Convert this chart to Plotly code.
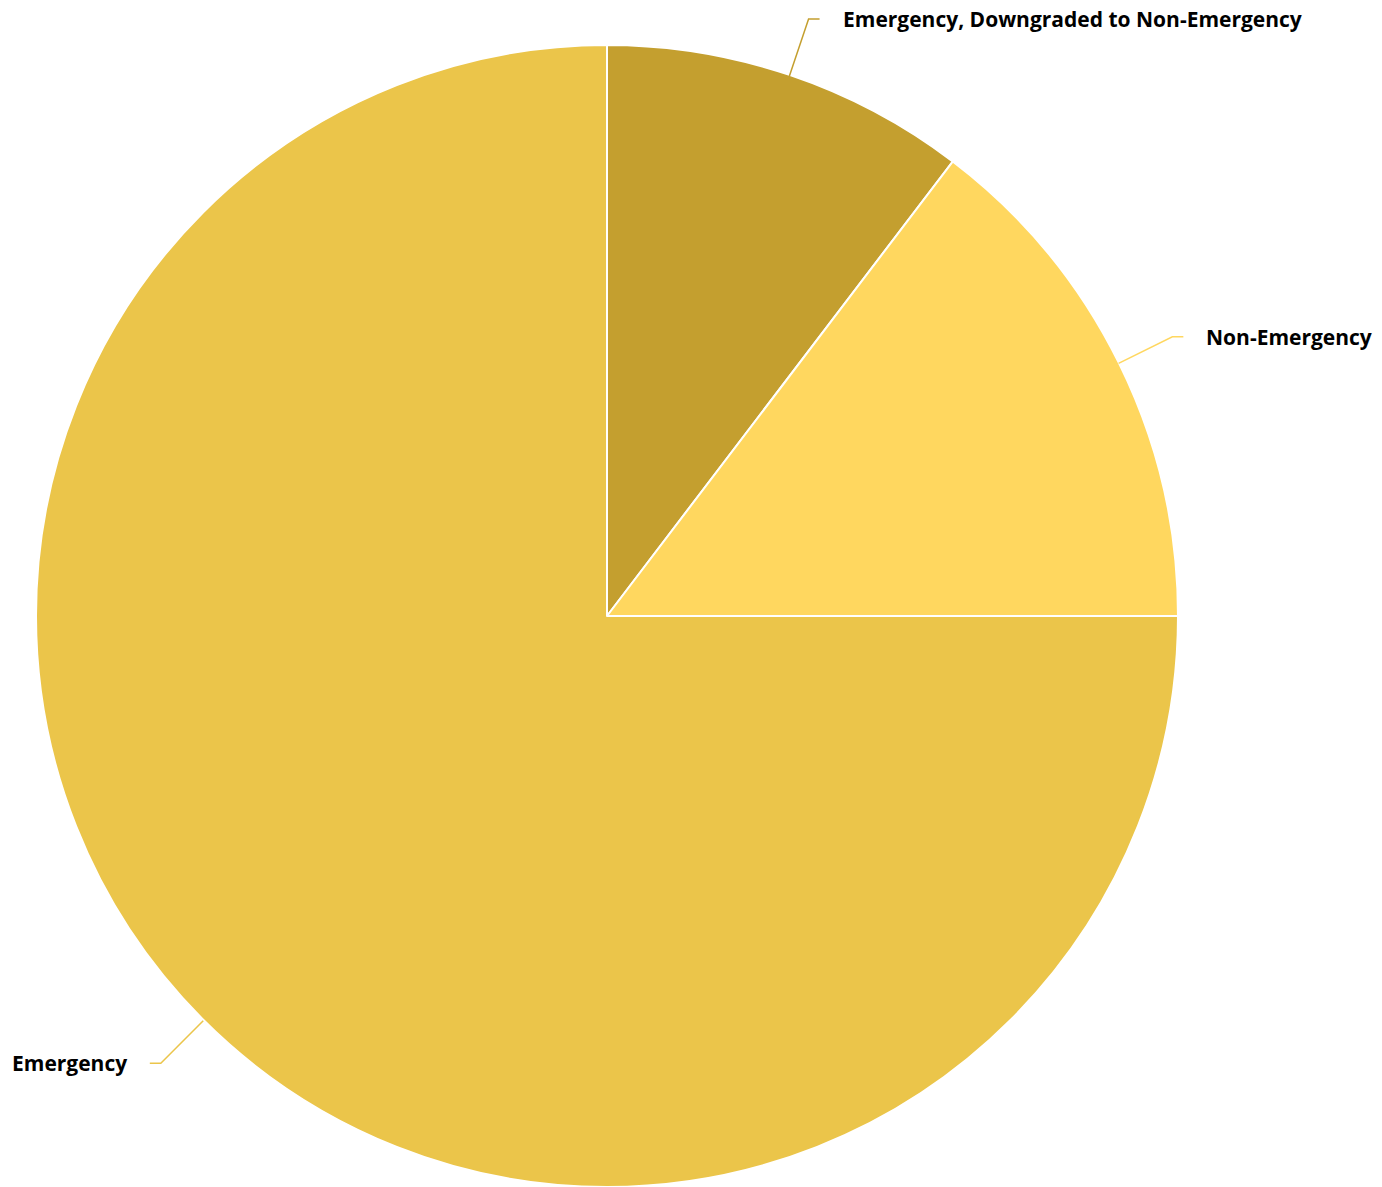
import math
import plotly.graph_objects as go

# Share of calls by final priority (percent)
categories = ["Emergency, Downgraded to Non-Emergency", "Non-Emergency", "Emergency"]
shares = [10.35, 14.65, 75.0]
colors = ["#C49F2F", "#FFD75F", "#EBC54A"]

W, H = 1382, 1187
CX, CY, R = 607.0, 617.0, 571.0  # pie centre and radius in pixels
EXT, HOOK, GAP = 60.0, 11.0, 21.0  # leader line geometry

fig = go.Figure(go.Pie(
    labels=categories,
    values=shares,
    sort=False,
    direction="clockwise",
    rotation=0,
    textinfo="none",
    hoverinfo="label+percent",
    marker=dict(colors=colors, line=dict(color="white", width=2)),
    domain=dict(x=[(CX - R) / W, (CX + R) / W], y=[0, 2 * R / H]),
    showlegend=False,
))

def px(x):
    return x / W

def py(y):
    return 1 - y / H

total = sum(shares)
acc = 0.0
shapes, annotations = [], []
for name, val, col in zip(categories, shares, colors):
    mid = (acc + val / 2) / total * 2 * math.pi
    acc += val
    sx, sy = math.sin(mid), -math.cos(mid)
    x0, y0 = CX + R * sx, CY + R * sy
    x1, y1 = CX + (R + EXT) * sx, CY + (R + EXT) * sy
    side = 1 if sx >= 0 else -1
    x2 = x1 + side * HOOK
    shapes.append(dict(
        type="path", xref="paper", yref="paper",
        path=f"M {px(x0)} {py(y0)} L {px(x1)} {py(y1)} L {px(x2)} {py(y1)}",
        line=dict(color=col, width=1.5),
    ))
    annotations.append(dict(
        x=px(x2 + side * GAP), y=py(y1), xref="paper", yref="paper",
        text=f"<b>{name}</b>", showarrow=False,
        xanchor="left" if side > 0 else "right", yanchor="middle",
        font=dict(family="Open Sans", size=21, color="#000000"),
    ))

fig.update_layout(
    width=W, height=H,
    margin=dict(l=0, r=0, t=0, b=0),
    paper_bgcolor="white",
    plot_bgcolor="white",
    shapes=shapes,
    annotations=annotations,
)

fig.write_html("out.html")
